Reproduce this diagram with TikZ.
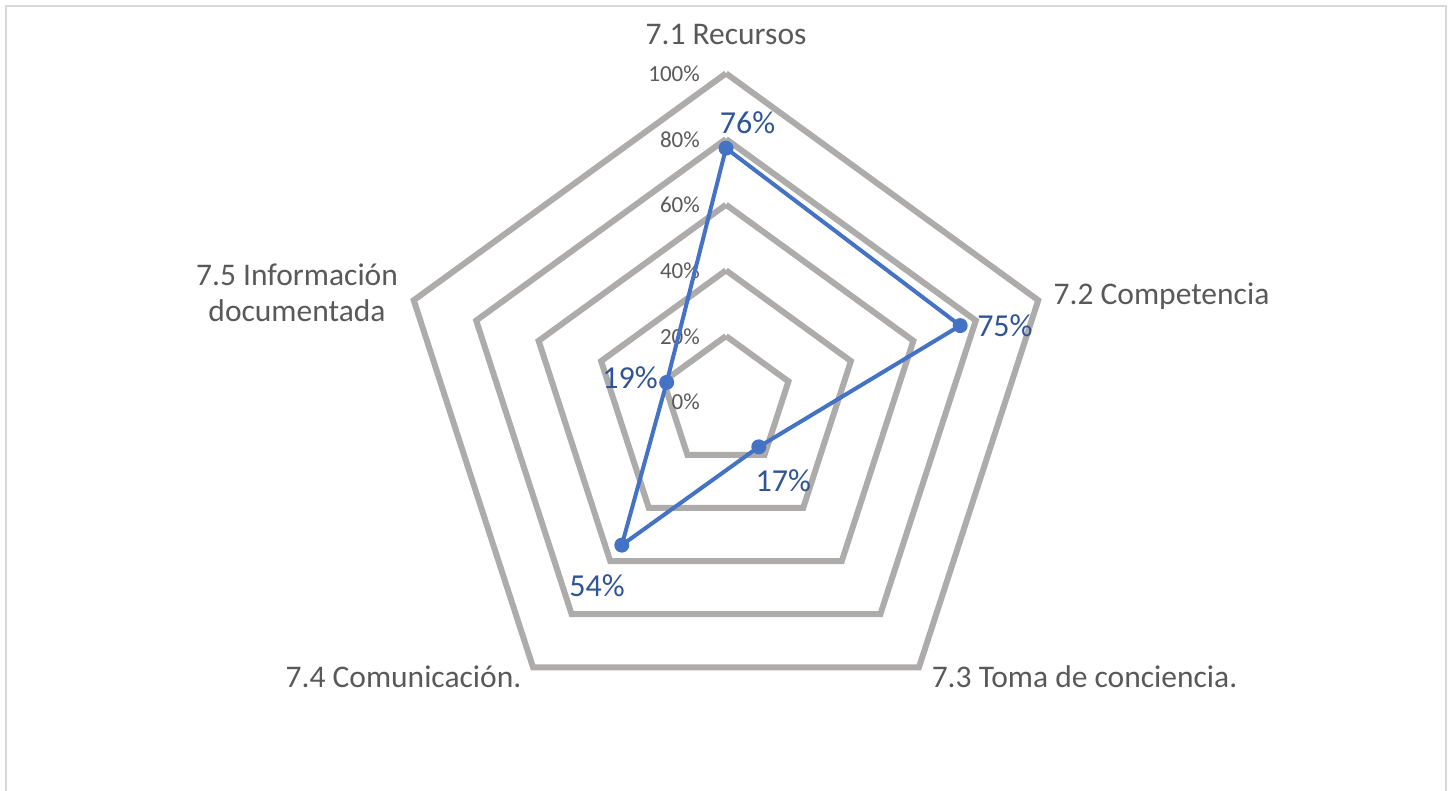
\documentclass[tikz,border=0pt]{standalone}
\usepackage{fontspec}
\setmainfont{Carlito}
\usepackage{tikz}
\definecolor{webgray}{HTML}{AEABAB}
\definecolor{txtgray}{HTML}{595959}
\definecolor{serblue}{HTML}{4472C4}
\definecolor{valblue}{HTML}{2F5597}
\definecolor{boxgray}{HTML}{D9D9D9}
\tikzstyle{web}=[webgray,line width=6pt,line cap=butt,line join=miter]
\tikzstyle{pt}=[circle,fill=serblue,inner sep=0pt,minimum size=15pt]
\tikzstyle{cat}=[txtgray,inner sep=0pt,anchor=base,font=\fontsize{31.5}{35.7}\selectfont]
\tikzstyle{val}=[valblue,inner sep=0pt,anchor=base,font=\fontsize{32}{38}\selectfont]
\tikzstyle{tck}=[txtgray,inner sep=0pt,anchor=base east,font=\fontsize{23}{27}\selectfont]

\begin{document}
\begin{tikzpicture}[x=1pt,y=1pt]
    \useasboundingbox (0,0) rectangle (1452,791);
    \draw[boxgray,line width=2pt] (6,-20) rectangle (1446,785);
    \coordinate (o) at (726,389.3);
    % rings 20% .. 100%
    \foreach \r in {65.66,131.32,196.98,262.64,328.3}
        \draw[web,shift={(o)}] (90:\r) -- (18:\r) -- (-54:\r) -- (-126:\r) -- (162:\r) -- (90:\r);
    \foreach \k/\p in {0/0,1/20,2/40,3/60,4/80,5/100}
        \node[tck] (t\p) at (700,{381.3+\k*65.66}) {\p\%};
    % series
    \foreach \n/\a/\v in {p1/90/.772, p2/18/.75, p3/-54/.17, p4/-126/.54, p5/162/.19}
        \path (o) ++(\a:\v*328.3) coordinate (\n);
    \draw[serblue,line width=4pt,line join=round] (p1) -- (p2) -- (p3) -- (p4) -- (p5) -- cycle;
    \foreach \i in {1,...,5}
        \node[pt] (m\i) at (p\i) {};
    \foreach \n/\x/\y/\t in {v1/747.5/657.7/76, v2/1004.9/454.3/75, v3/783.3/299.3/17, v4/597/194.3/54, v5/630/402.7/19}
        \node[val] (\n) at (\x,\y) {\t\%};
    % categories
    \node[cat] (c1) at (726,746) {7.1 Recursos};
    \node[cat] (c2) at (1161.5,486) {7.2 Competencia};
    \node[cat] (c3) at (1084.5,103) {7.3 Toma de conciencia.};
    \node[cat] (c4) at (403.5,103) {7.4 Comunicación.};
    \node[cat,align=center] (c5) at (297,469.3) {7.5 Información\\documentada};
\end{tikzpicture}
\end{document}
